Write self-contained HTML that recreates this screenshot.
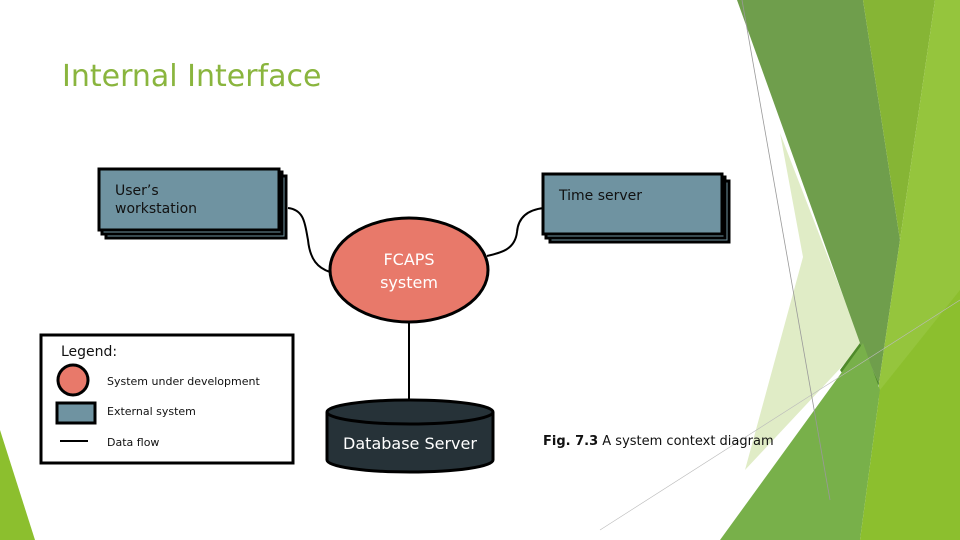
<!DOCTYPE html>
<html><head><meta charset="utf-8"><style>
html,body{margin:0;padding:0;background:#fff;}
body{width:960px;height:540px;overflow:hidden;position:relative;font-family:"DejaVu Sans","Liberation Sans",sans-serif;}
</style></head><body>
<svg width="960" height="540" viewBox="0 0 960 540" xmlns="http://www.w3.org/2000/svg" style="position:absolute;left:0;top:0">
<!-- decorative right side -->
<polygon points="780,133 862,345 745,470 803,257" fill="#e0ecc6"/>
<polygon points="737,0 863,0 900,240 879,383 860,343" fill="#6f9e4c"/>
<polygon points="863,0 935,0 900,240" fill="#86b535"/>
<polygon points="935,0 960,0 960,540 880,540 879,383 900,240" fill="#95c53d"/>
<polygon points="860,343 879,383 873,420 840,370" fill="#4f8a2a"/>
<polygon points="720,540 863,343 880,390 860,540" fill="#78b04a"/>
<polygon points="860,540 880,390 960,290 960,540" fill="#8cbf2e"/>
<line x1="742" y1="0" x2="830" y2="500" stroke="#999" stroke-width="0.8"/>
<line x1="600" y1="530" x2="960" y2="300" stroke="#bbb" stroke-width="0.6"/>
<polygon points="0,430 35,540 0,540" fill="#8cbf2e"/>

<!-- title -->
<text x="62" y="86" font-family="'DejaVu Sans','Liberation Sans',sans-serif" font-size="30" fill="#8ab53e">Internal Interface</text>

<!-- connectors -->
<path d="M288,208 C305,210 305,225 308,240 C310,260 318,268 330,272" fill="none" stroke="#000" stroke-width="2"/>
<path d="M544,208 C525,210 518,220 517,232 C515,250 500,253 487,256" fill="none" stroke="#000" stroke-width="2"/>
<line x1="409" y1="322" x2="409" y2="402" stroke="#000" stroke-width="2"/>

<!-- user's workstation -->
<rect x="106" y="176" width="180" height="62" fill="#6f93a1" stroke="#000" stroke-width="3"/>
<rect x="102" y="172" width="180" height="62" fill="#6f93a1" stroke="#000" stroke-width="3"/>
<rect x="99" y="169" width="180" height="61" fill="#6f93a1" stroke="#000" stroke-width="3"/>
<text x="115" y="195" font-size="14" fill="#111">User’s</text>
<text x="115" y="213" font-size="14" fill="#111">workstation</text>

<!-- time server -->
<rect x="550" y="181" width="179" height="61" fill="#6f93a1" stroke="#000" stroke-width="3"/>
<rect x="546" y="177" width="179" height="61" fill="#6f93a1" stroke="#000" stroke-width="3"/>
<rect x="543" y="174" width="179" height="60" fill="#6f93a1" stroke="#000" stroke-width="3"/>
<text x="559" y="200" font-size="14" fill="#111">Time server</text>

<!-- FCAPS -->
<ellipse cx="409" cy="270" rx="79" ry="52" fill="#e8796a" stroke="#000" stroke-width="3"/>
<text x="409" y="265" font-size="16" fill="#fff" text-anchor="middle">FCAPS</text>
<text x="409" y="288" font-size="16" fill="#fff" text-anchor="middle">system</text>

<!-- database -->
<path d="M327,412 L327,460 A83,12 0 0 0 493,460 L493,412" fill="#263238" stroke="#000" stroke-width="3"/>
<ellipse cx="410" cy="412" rx="83" ry="12" fill="#263238" stroke="#000" stroke-width="3"/>
<text x="410" y="449" font-size="16" fill="#fff" text-anchor="middle">Database Server</text>

<!-- legend -->
<rect x="41" y="335" width="252" height="128" fill="#fff" stroke="#000" stroke-width="3"/>
<text x="61" y="356" font-size="14" fill="#111">Legend:</text>
<circle cx="73" cy="380" r="15" fill="#e8796a" stroke="#000" stroke-width="3"/>
<text x="107" y="385" font-size="11" fill="#111">System under development</text>
<rect x="57" y="403" width="38" height="20" fill="#6f93a1" stroke="#000" stroke-width="3"/>
<text x="107" y="415" font-size="11" fill="#111">External system</text>
<line x1="60" y1="441" x2="88" y2="441" stroke="#000" stroke-width="2"/>
<text x="107" y="446" font-size="11" fill="#111">Data flow</text>

<!-- caption -->
<text x="543" y="445" font-size="13" fill="#111"><tspan font-weight="bold">Fig. 7.3</tspan> A system context diagram</text>
</svg>
</body></html>
